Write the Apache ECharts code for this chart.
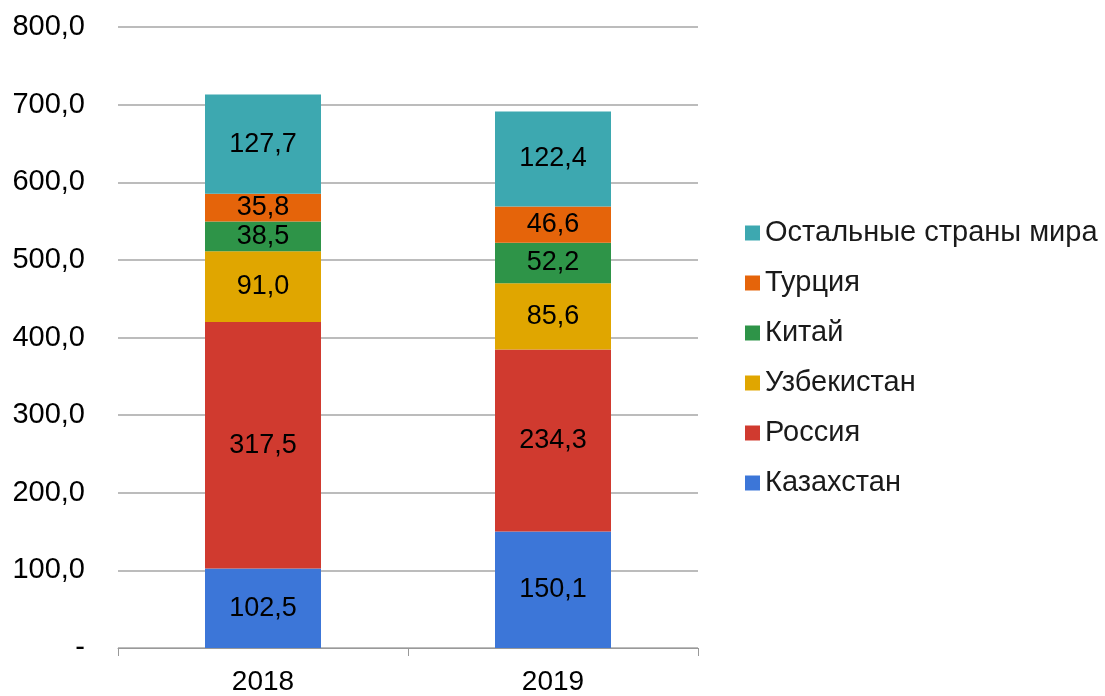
<!DOCTYPE html>
<html><head><meta charset="utf-8">
<script src="https://cdn.jsdelivr.net/npm/echarts@6/dist/echarts.min.js"></script>
<style>html,body{margin:0;padding:0;background:#fff}#c{width:1105px;height:696px}</style>
</head><body><div id="c"></div>
<script>
const categories = ['2018', '2019'];
const kazakhstan = [102.5, 150.1];
const russia = [317.5, 234.3];
const uzbekistan = [91.0, 85.6];
const china = [38.5, 52.2];
const turkey = [35.8, 46.6];
const others = [127.7, 122.4];
const yTicks = [0, 100, 200, 300, 400, 500, 600, 700, 800];

const fmt = v => v.toFixed(1).replace('.', ',');
const FONT = 'Liberation Sans, Arial, sans-serif';

function mk(name, data, color) {
  return {
    name, type: 'bar', stack: 'a', data, barWidth: '40%',
    itemStyle: { color },
    label: { show: true, position: 'inside', color: '#000', fontSize: 27, fontFamily: FONT,
      formatter: p => fmt(p.value) }
  };
}

const chart = echarts.init(document.getElementById('c'), null, { renderer: 'canvas' });
chart.setOption({
  animation: false,
  backgroundColor: '#fff',
  grid: { left: 118, right: 407, top: 27, bottom: 44, containLabel: false },
  legend: {
    orient: 'vertical', left: 745, top: 218, padding: 0,
    itemWidth: 15, itemHeight: 15, itemGap: 20,
    icon: 'rect',
    textStyle: { fontSize: 29, fontFamily: FONT, color: '#1a1a1a', lineHeight: 30 },
    data: ['Остальные страны мира', 'Турция', 'Китай', 'Узбекистан', 'Россия', 'Казахстан']
  },
  xAxis: {
    type: 'category', data: categories,
    axisLine: { lineStyle: { color: '#999', width: 1 } },
    axisTick: { show: true, length: 8, lineStyle: { color: '#999' } },
    axisLabel: { fontSize: 28, fontFamily: FONT, color: '#000', margin: 20 }
  },
  yAxis: {
    type: 'value', min: yTicks[0], max: yTicks[yTicks.length - 1], interval: 100,
    axisLine: { show: false }, axisTick: { show: false },
    splitLine: { lineStyle: { color: '#a6a6a6', width: 1.5 } },
    axisLabel: { fontSize: 29, fontFamily: FONT, color: '#000', margin: 33,
      formatter: v => v === 0 ? '-' : fmt(v) }
  },
  series: [
    mk('Казахстан', kazakhstan, '#3C76D8'),
    mk('Россия', russia, '#D03A2F'),
    mk('Узбекистан', uzbekistan, '#E0A600'),
    mk('Китай', china, '#2E9448'),
    mk('Турция', turkey, '#E5640A'),
    mk('Остальные страны мира', others, '#3DA8B0')
  ]
});
</script></body></html>
